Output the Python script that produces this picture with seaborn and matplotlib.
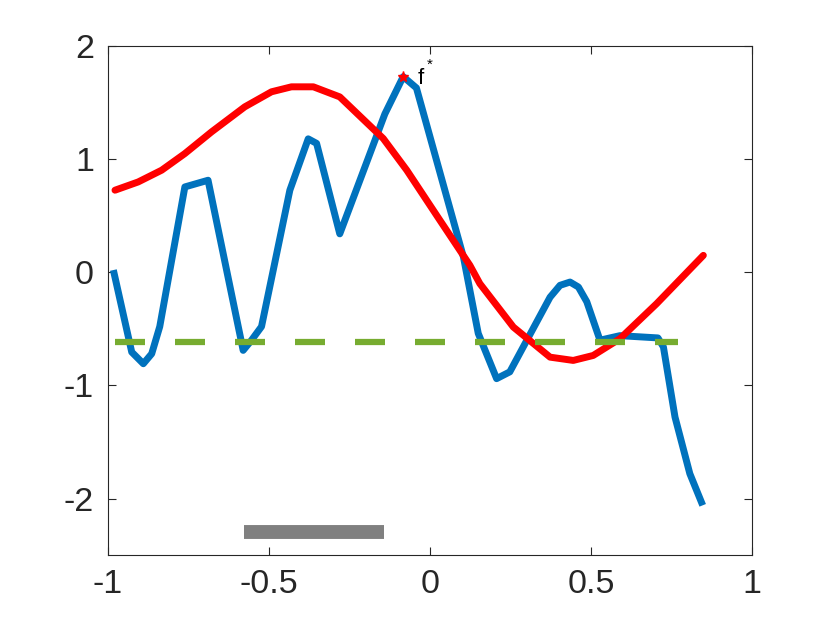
import numpy as np
import pandas as pd
import matplotlib
matplotlib.use("Agg")
import matplotlib.pyplot as plt
import seaborn as sns

# blue sample path
blue_x = [-0.983, -0.926, -0.890, -0.864, -0.839, -0.761, -0.689, -0.580, -0.554, -0.523,
          -0.435, -0.378, -0.352, -0.280, -0.140, -0.083, -0.042, 0.104, 0.150, 0.207,
          0.248, 0.373, 0.404, 0.435, 0.461, 0.487, 0.528, 0.590, 0.708, 0.725,
          0.761, 0.807, 0.847]
blue_y = [0.02, -0.705, -0.808, -0.72, -0.48, 0.755, 0.814, -0.69, -0.60, -0.48,
          0.726, 1.18, 1.14, 0.34, 1.40, 1.73, 1.63, 0.135, -0.54, -0.94,
          -0.88, -0.22, -0.115, -0.086, -0.13, -0.26, -0.60, -0.56, -0.58, -0.66,
          -1.28, -1.78, -2.06]

# red smooth curve
red_x = [-0.978, -0.906, -0.833, -0.761, -0.678, -0.575, -0.492, -0.430, -0.362, -0.280,
         -0.145, -0.072, 0.031, 0.124, 0.155, 0.259, 0.373, 0.445, 0.507, 0.590,
         0.704, 0.849]
red_y = [0.726, 0.799, 0.903, 1.050, 1.242, 1.463, 1.596, 1.640, 1.640, 1.551,
         1.183, 0.903, 0.460, 0.062, -0.100, -0.484, -0.750, -0.779, -0.735, -0.587,
         -0.277, 0.150]

# green threshold
green_x = [-0.978, 0.770]
green_y = [-0.62, -0.62]

# gray interval
gray_x = [-0.578, -0.143]
gray_y = [-2.30, -2.30]

# maximum
star_x, star_y = -0.083, 1.73

xticks = [-1, -0.5, 0, 0.5, 1]
xticklabels = ["-1", "-0.5", "0", "0.5", "1"]
yticks = [-2, -1, 0, 1, 2]
yticklabels = ["-2", "-1", "0", "1", "2"]

sns.set_theme(style="white")
plt.rcParams["font.family"] = ["Liberation Sans", "DejaVu Sans"]
plt.rcParams["axes.unicode_minus"] = False
plt.rcParams["lines.scale_dashes"] = False

fig = plt.figure(figsize=(8.3, 6.23), dpi=100)
ax = fig.add_axes([0.13, 0.109, 0.776, 0.817])

df_blue = pd.DataFrame({"x": blue_x, "y": blue_y})
df_red = pd.DataFrame({"x": red_x, "y": red_y})

sns.lineplot(data=df_blue, x="x", y="y", sort=False, color="#0072BD", linewidth=5,
             solid_joinstyle="round", solid_capstyle="butt", ax=ax)
sns.lineplot(data=df_red, x="x", y="y", sort=False, color="#FF0000", linewidth=5,
             solid_joinstyle="round", ax=ax)
sns.lineplot(x=green_x, y=green_y, color="#77AC30", linewidth=4.5, ax=ax)
ax.lines[-1].set_dashes((21.6, 21.6))
ax.lines[-1].set_dash_capstyle("butt")
sns.lineplot(x=gray_x, y=gray_y, color="#808080", linewidth=10, solid_capstyle="butt", ax=ax)
ax.plot([star_x], [star_y], marker="*", color="#FF0000", markersize=8, linestyle="none")
ax.text(-0.037, 1.664, "f", fontsize=16, color="black", va="baseline", ha="left")
ax.text(-0.010, 1.80, "*", fontsize=11, color="black", va="baseline", ha="left")

ax.set_xlim(-1, 1)
ax.set_ylim(-2.5, 2)
ax.set_xticks(xticks)
ax.set_xticklabels(xticklabels)
ax.set_yticks(yticks)
ax.set_yticklabels(yticklabels)
ax.set_xlabel("")
ax.set_ylabel("")
ax.tick_params(direction="in", length=6, width=0.8, colors="#262626", labelsize=24.5,
               top=True, right=True, bottom=True, left=True, pad=10)
for s in ax.spines.values():
    s.set_visible(True)
    s.set_color("#262626")
    s.set_linewidth(0.8)

fig.savefig("out.png", dpi=100)
